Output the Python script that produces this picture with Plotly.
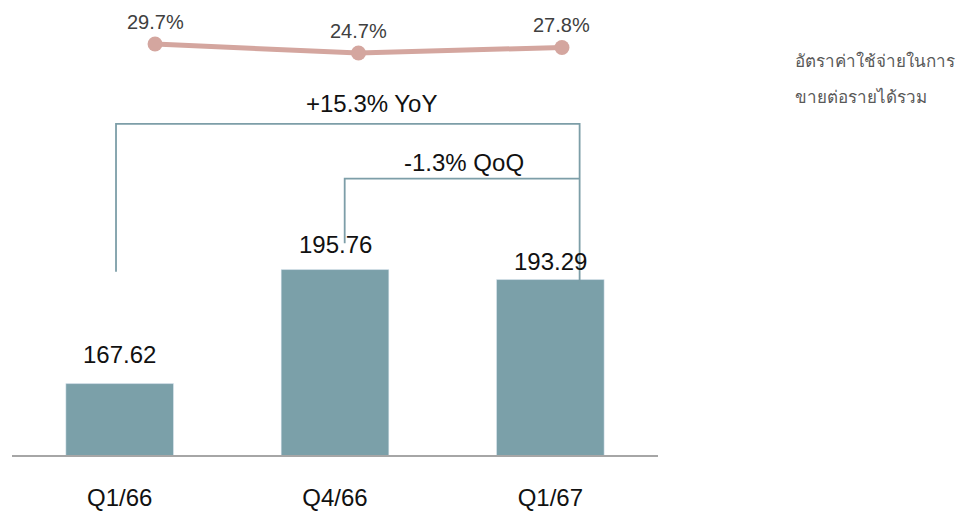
import plotly.graph_objects as go

categories = ["Q1/66", "Q4/66", "Q1/67"]
sales_values = [167.62, 195.76, 193.29]
ratio_values = [29.7, 24.7, 27.8]
ratio_labels = ["29.7%", "24.7%", "27.8%"]
legend_text = ["อัตราค่าใช้จ่ายในการ", "ขายต่อรายได้รวม"]
yoy_label = "+15.3% YoY"
qoq_label = "-1.3% QoQ"

BAR = "#7ba0a9"
LINE = "#d4a69f"
BRACKET = "#7d9ea8"

fig = go.Figure()
fig.add_trace(go.Bar(x=categories, y=sales_values, marker_color=BAR, width=0.5,
                     showlegend=False, hoverinfo="skip"))
fig.add_trace(go.Scatter(x=categories, y=ratio_values, xaxis="x2", yaxis="y2", mode="lines+markers",
                         line=dict(color=LINE, width=5), marker=dict(size=15, color=LINE),
                         showlegend=False, hoverinfo="skip"))

font = "Liberation Sans, Arial, sans-serif"
# bar value labels
label_shift = [29, 25, 18]
for c, v, s in zip(categories, sales_values, label_shift):
    fig.add_annotation(x=c, y=v, text=f"{v:.2f}", showarrow=False, yshift=s,
                       font=dict(family=font, size=24, color="#111111"))
for c, v, t in zip(categories, ratio_values, ratio_labels):
    fig.add_annotation(x=c, y=v, xref="x2", yref="y2", text=t, showarrow=False, yshift=22,
                       font=dict(family=font, size=20, color="#404040"))

# brackets (YoY: first -> last, QoQ: second -> last)
yoy_top, qoq_top = 231.7, 218.2
fig.add_shape(type="path", xref="x", yref="y",
              path=f"M -0.017,{sales_values[0]+27.6} L -0.017,{yoy_top} L 2.136,{yoy_top} L 2.136,{sales_values[2]-0.8}",
              line=dict(color=BRACKET, width=1.8))
fig.add_shape(type="path", xref="x", yref="y",
              path=f"M 1.045,{sales_values[1]+6.5} L 1.045,{qoq_top} L 2.136,{qoq_top}",
              line=dict(color=BRACKET, width=1.8))
fig.add_annotation(x=1.17, y=yoy_top, text=yoy_label, showarrow=False, yshift=20,
                   font=dict(family=font, size=24, color="#111111"))
fig.add_annotation(x=1.6, y=qoq_top, text=qoq_label, showarrow=False, yshift=16,
                   font=dict(family=font, size=24, color="#111111"))

# legend-like text
fig.add_annotation(xref="paper", yref="paper", x=1.209, y=1 - 39/447, text=legend_text[0],
                   showarrow=False, xanchor="left", font=dict(family="Noto Sans, Tahoma, sans-serif", size=17, color="#595959"))
fig.add_annotation(xref="paper", yref="paper", x=1.209, y=1 - 75/447, text=legend_text[1],
                   showarrow=False, xanchor="left", font=dict(family="Noto Sans, Tahoma, sans-serif", size=17, color="#595959"))

fig.update_layout(
    width=972, height=521,
    margin=dict(l=4, r=322, t=0, b=74),
    plot_bgcolor="white", paper_bgcolor="white",
    xaxis=dict(type="category", range=[-0.5, 2.5], showgrid=False, showline=True,
               linecolor="#a6a6a6", linewidth=2, ticks="", ticklabelstandoff=20,
               tickfont=dict(family=font, size=24, color="#111111")),
    xaxis2=dict(type="category", range=[-0.703, 2.472], overlaying="x", visible=False, showgrid=False),
    yaxis=dict(range=[150, 260.3], visible=False, showgrid=False),
    yaxis2=dict(range=[-198.6, 49.7], overlaying="y", visible=False, showgrid=False),
)
fig.write_html("out.html")
